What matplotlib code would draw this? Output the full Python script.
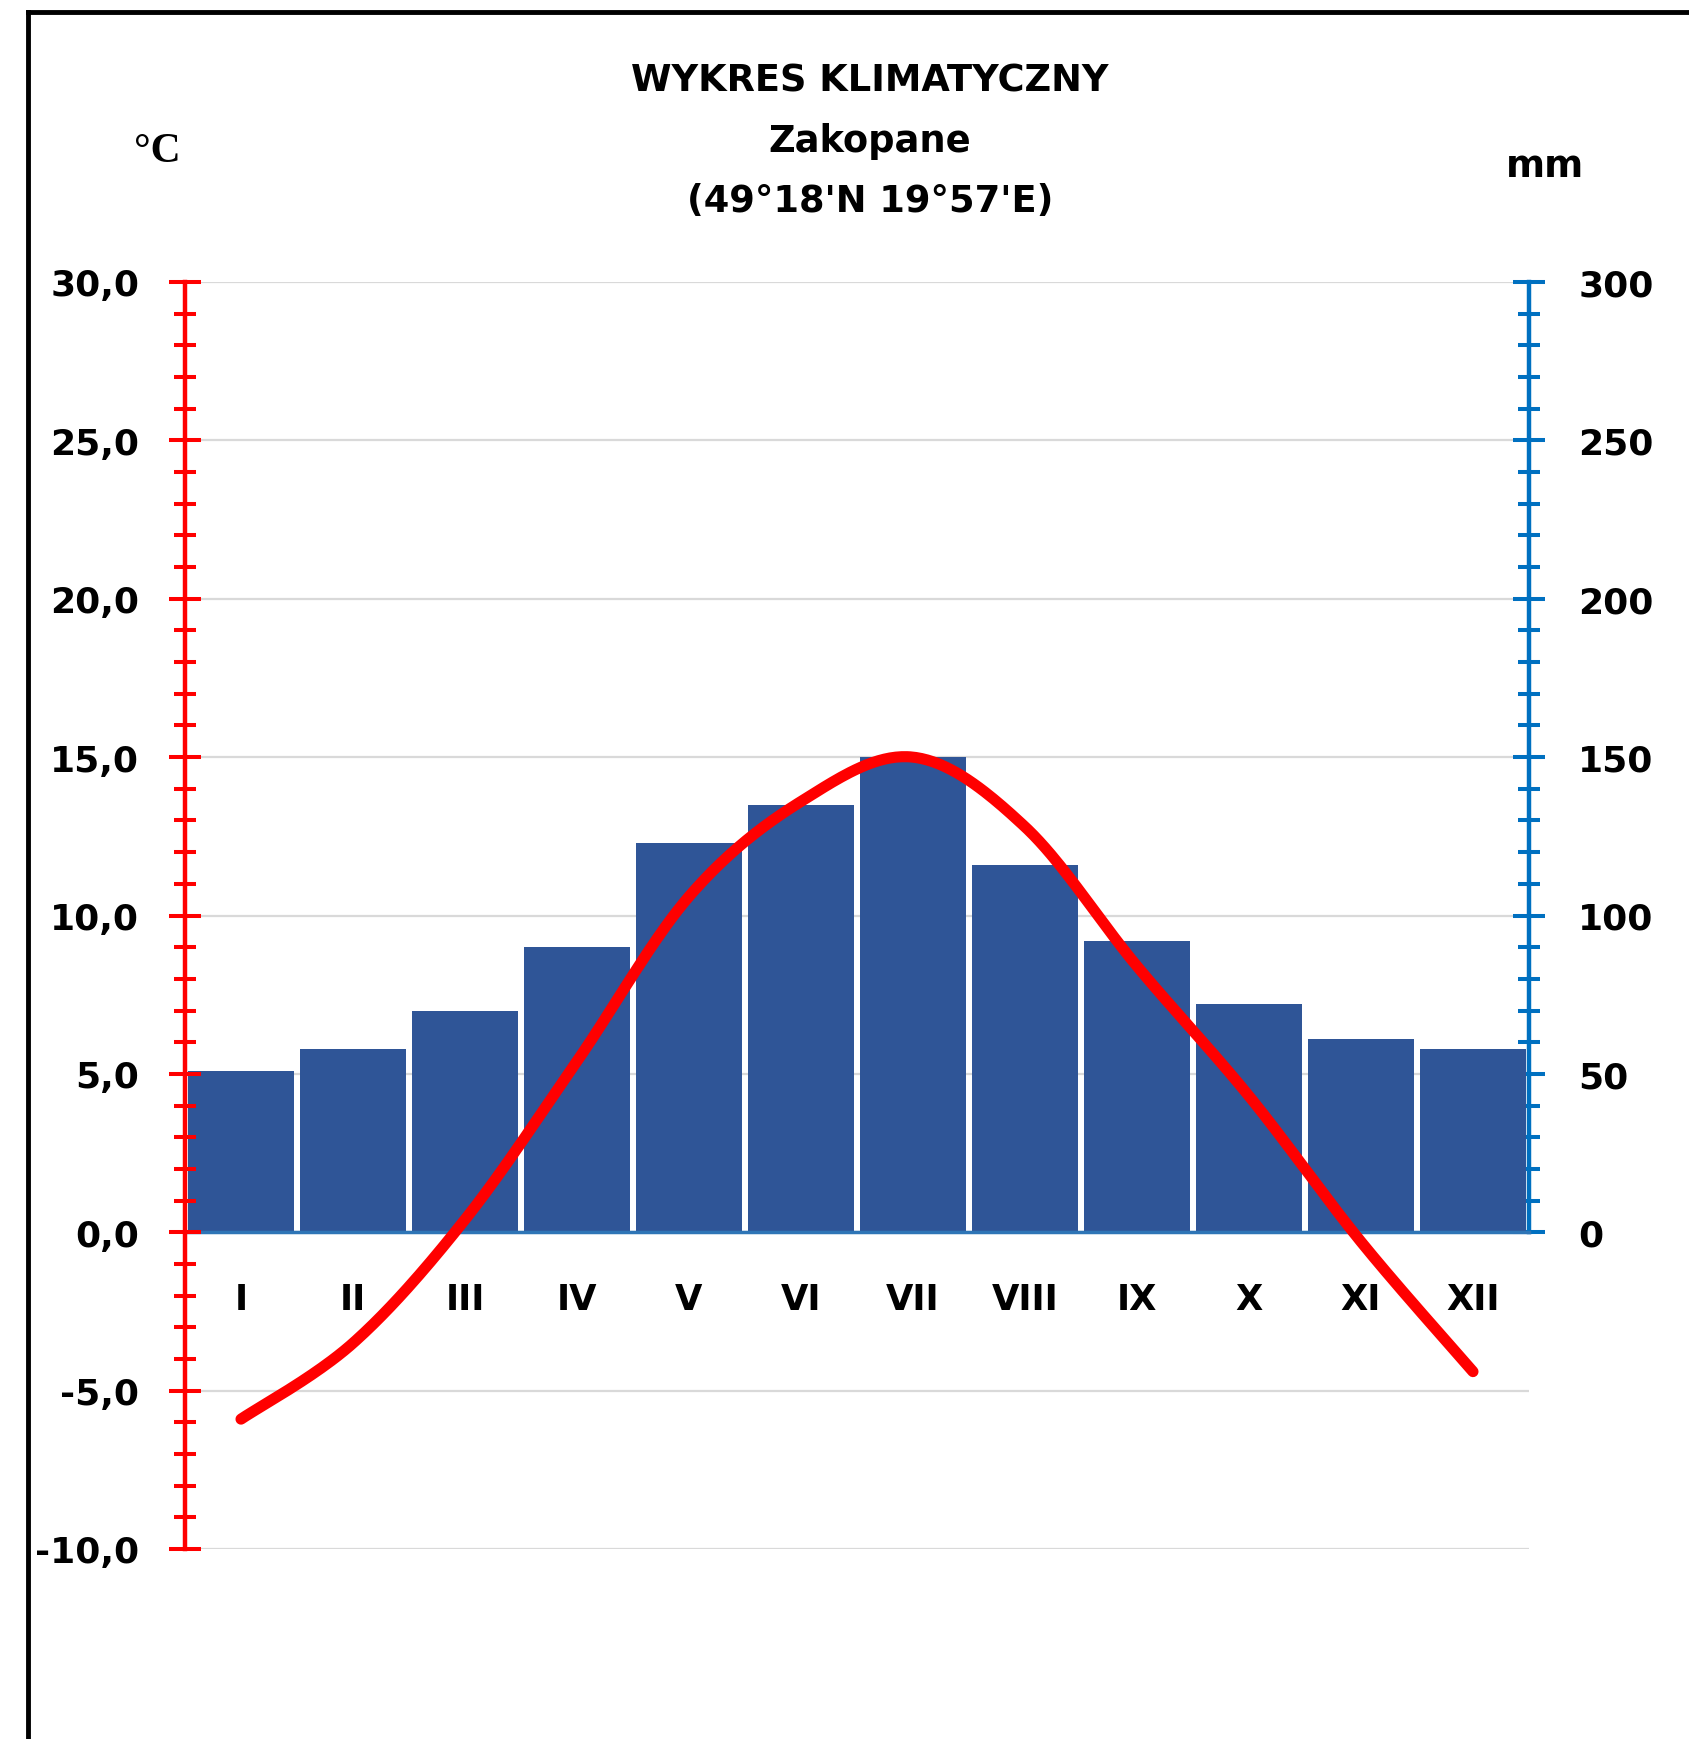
import numpy as np
import matplotlib
matplotlib.use('Agg')
import matplotlib.pyplot as plt
from matplotlib.lines import Line2D
from matplotlib.ticker import FixedLocator, FuncFormatter

# ---------------- data ----------------
months = ['I', 'II', 'III', 'IV', 'V', 'VI', 'VII', 'VIII', 'IX', 'X', 'XI', 'XII']
temperature = [-5.9, -3.5, 0.4, 5.4, 10.6, 13.6, 15.0, 12.8, 8.4, 4.3, -0.3, -4.4]
precipitation = [51, 58, 70, 90, 123, 135, 150, 116, 92, 72, 61, 58]
temp_ticks = [-10, -5, 0, 5, 10, 15, 20, 25, 30]
precip_ticks = [0, 50, 100, 150, 200, 250, 300]
title_lines = ['WYKRES KLIMATYCZNY', 'Zakopane', "(49°18'N 19°57'E)"]
temp_unit = '°C'
precip_unit = 'mm'

# ---------------- style ----------------
plt.rcParams['font.family'] = ['DejaVu Sans']
plt.rcParams['font.weight'] = 'bold'

RED = '#FF0000'
BLUE_AX = '#0070C0'
BAR = '#2F5597'
GRID = '#D9D9D9'

W, H = 1690, 1740
fig = plt.figure(figsize=(W / 100, H / 100), dpi=100)
fig.patch.set_facecolor('white')


def fx(px):
    return px / W


def fy(py):
    return 1 - py / H


ax = fig.add_axes([fx(185), fy(1550), fx(1529) - fx(185), fy(283) - fy(1550)])
ax2 = ax.twinx()
ax.yaxis.tick_right()
ax2.yaxis.tick_left()
ax.patch.set_visible(False)

x = np.arange(1, len(months) + 1)
tmin, tmax = temp_ticks[0], temp_ticks[-1]
mm_per_deg = precip_ticks[-1] / tmax

ax.set_xlim(0.5, len(months) + 0.5)
ax.set_ylim(tmin * mm_per_deg, tmax * mm_per_deg)
ax2.set_ylim(tmin, tmax)

# gridlines (behind bars)
for t in temp_ticks:
    ax.axhline(t * mm_per_deg, color=GRID, lw=1.6, zorder=0.5)

# bars
ax.bar(x, precipitation, width=0.946, color=BAR, zorder=2)


# smoothed temperature line (Excel-like Bezier smoothing)
def smooth(xs, ys, n=40):
    P = np.column_stack([xs, ys]).astype(float)
    out = []
    for i in range(len(P) - 1):
        p0 = P[i - 1] if i > 0 else P[i]
        p1, p2 = P[i], P[i + 1]
        p3 = P[i + 2] if i + 2 < len(P) else P[i + 1]
        c1 = p1 + (p2 - p0) / 6
        c2 = p2 - (p3 - p1) / 6
        t = np.linspace(0, 1, n)[:, None]
        seg = (1 - t) ** 3 * p1 + 3 * (1 - t) ** 2 * t * c1 + 3 * (1 - t) * t ** 2 * c2 + t ** 3 * p2
        out.append(seg if i == 0 else seg[1:])
    return np.vstack(out)


curve = smooth(x, temperature)
ax2.plot(curve[:, 0], curve[:, 1], color=RED, lw=8, solid_capstyle='round', zorder=3)

# spines
for s in ['top', 'left']:
    ax.spines[s].set_visible(False)
ax.spines['right'].set_color(BLUE_AX)
ax.spines['right'].set_linewidth(3.2)
ax.spines['right'].set_bounds(precip_ticks[0], precip_ticks[-1])
ax.spines['bottom'].set_position(('data', 0))
ax.spines['bottom'].set_color('#2E75B6')
ax.spines['bottom'].set_linewidth(2.5)

for s in ['top', 'right', 'bottom']:
    ax2.spines[s].set_visible(False)
ax2.spines['left'].set_color(RED)
ax2.spines['left'].set_linewidth(3.2)

# precipitation axis ticks (right, blue)
ax.yaxis.set_major_locator(FixedLocator(precip_ticks))
ax.yaxis.set_minor_locator(FixedLocator(list(range(precip_ticks[0], precip_ticks[-1] + 1, 10))))
ax.tick_params(axis='y', which='major', direction='inout', length=23, width=2.9,
               color=BLUE_AX, pad=24, labelsize=26, labelcolor='black')
ax.tick_params(axis='y', which='minor', direction='inout', length=16.5, width=2.9, color=BLUE_AX)

# temperature axis ticks (left, red)
ax2.yaxis.set_major_locator(FixedLocator(temp_ticks))
ax2.yaxis.set_minor_locator(FixedLocator(list(range(tmin, tmax + 1, 1))))
ax2.yaxis.set_major_formatter(FuncFormatter(lambda v, p: f'{v:.1f}'.replace('.', ',')))
ax2.tick_params(axis='y', which='major', direction='inout', length=23, width=2.9,
                color=RED, pad=21.5, labelsize=26, labelcolor='black')
ax2.tick_params(axis='y', which='minor', direction='inout', length=16.5, width=2.9, color=RED)

# month labels
ax.set_xticks(x)
ax.set_xticklabels(months)
ax.tick_params(axis='x', length=0, pad=36, labelsize=25.5)

# titles and units
fig.text(fx(870), fy(92), title_lines[0], ha='center', va='baseline', fontsize=26.5)
fig.text(fx(870), fy(152), title_lines[1], ha='center', va='baseline', fontsize=26.5)
fig.text(fx(870), fy(212), title_lines[2], ha='center', va='baseline', fontsize=26.5)
fig.text(fx(157), fy(162), temp_unit, ha='center', va='baseline', fontsize=30,
         family='Liberation Serif', fontweight='bold')
fig.text(fx(1545), fy(177), precip_unit, ha='center', va='baseline', fontsize=27)

# outer frame (cut off on right and bottom, as in the source image)
fig.add_artist(Line2D([fx(28), 1], [fy(13), fy(13)], color='black', lw=3.5,
                      transform=fig.transFigure))
fig.add_artist(Line2D([fx(28), fx(28)], [fy(13), 0], color='black', lw=3.5,
                      transform=fig.transFigure))

fig.savefig('out.png', dpi=100)
